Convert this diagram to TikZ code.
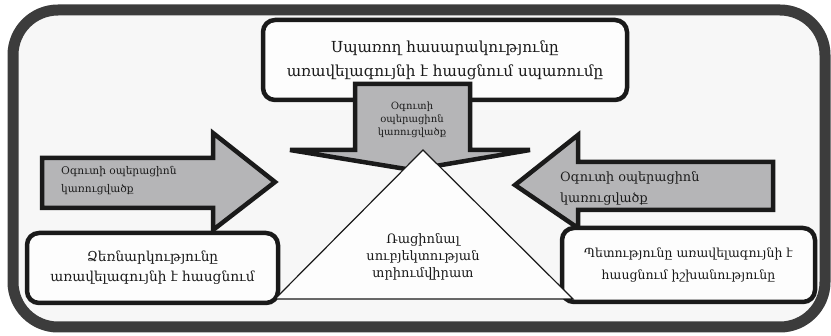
\documentclass[tikz,border=0pt]{standalone}
\usepackage{fontspec}
\setmainfont{DejaVu Serif}
\definecolor{outerc}{HTML}{3C3C3C}
\definecolor{bgc}{HTML}{F7F7F7}
\definecolor{arrowc}{HTML}{B5B5B7}
\definecolor{linec}{HTML}{1A1A1A}
\definecolor{boxc}{HTML}{FDFDFD}
\tikzset{
  blockarrow/.style={draw=linec, fill=arrowc, line width=4.5pt, line join=miter},
  roundbox/.style={draw=linec, fill=boxc, line width=4.5pt, rounded corners=12pt, inner sep=0pt},
  label/.style={text=linec, inner sep=0pt, align=center},
}
\begin{document}
\begin{tikzpicture}[x=1pt,y=-1pt]
\useasboundingbox (0,0) rectangle (831,336);
% outer frame
\draw[line width=11pt, draw=outerc, fill=bgc, rounded corners=45pt] (13,10) rectangle (825,327);
% side arrows
\draw[blockarrow] (42,158) -- (213,158) -- (213,133) -- (275,182) -- (213,230) -- (213,208) -- (42,208) -- cycle;
\draw[blockarrow] (773,162) -- (578,162) -- (578,135) -- (515,185) -- (578,228) -- (578,210) -- (773,210) -- cycle;
% top box
\node[roundbox, minimum width=364pt, minimum height=80pt] (top) at (445,60) {};
% down arrow
\draw[blockarrow] (355,84) -- (470,84) -- (470,150) -- (530,150) -- (412,170) -- (290,150) -- (355,150) -- cycle;
% bottom boxes
\node[roundbox, minimum width=251pt, minimum height=70pt] (left) at (152.5,268) {};
\node[roundbox, minimum width=253pt, minimum height=74pt] (right) at (688.5,265) {};
% triangle
\draw[draw=linec, fill=boxc, line width=1.2pt] (423,150) -- (573,299) -- (275,299) -- cycle;
% texts
\node[label, font=\fontsize{15.2}{24}\selectfont] (toptext) at (top.center) {Սպառող հասարակությունը\\առավելագույնի է հասցնում սպառումը};
\node[label, font=\fontsize{13.7}{20}\selectfont] (lefttext) at (left.center) {Ձեռնարկությունը\\առավելագույնի է հասցնում};
\node[label, font=\fontsize{12.5}{22}\selectfont] (righttext) at (right.center) {Պետությունը առավելագույնի է\\հասցնում իշխանությունը};
\node[label, font=\fontsize{13}{17}\selectfont] (tritext) at (423,257) {Ռացիոնալ\\սուբյեկտության\\տրիումվիրատ};
\node[label, align=left, anchor=west, font=\fontsize{10.6}{18}\selectfont] (ltext) at (61,181) {Օգուտի օպերացիոն\\կառուցվածք};
\node[label, align=left, anchor=west, font=\fontsize{12.8}{21}\selectfont] (rtext) at (560,188) {Օգուտի օպերացիոն\\կառուցվածք};
\node[label, font=\fontsize{10}{13}\selectfont] (dtext) at (412,120) {Օգուտի\\օպերացիոն\\կառուցվածք};
\end{tikzpicture}
\end{document}
